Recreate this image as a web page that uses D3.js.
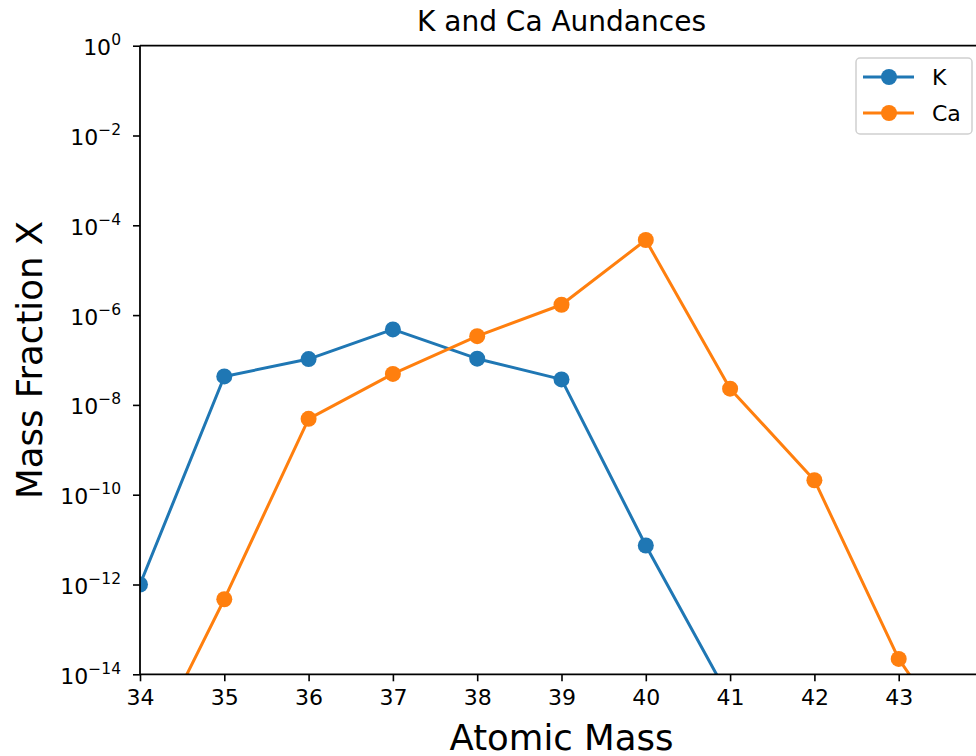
<!DOCTYPE html>
<html>
<head>
<meta charset="utf-8">
<script src="https://cdn.jsdelivr.net/npm/d3@7"></script>
<style>
  html, body { margin: 0; padding: 0; background: #fff; }
  svg { display: block; font-family: "DejaVu Sans", sans-serif; }
</style>
</head>
<body>
<svg id="chart" width="976" height="756"></svg>
<script>
// Data (mass fractions, log scale)
const kMass  = [34, 35, 36, 37, 38, 39, 40, 41];
const kX     = [1.0e-12, 4.3e-8, 1.05e-7, 4.8e-7, 1.07e-7, 3.7e-8, 7.4e-12, 2.8e-15];
const caMass = [34, 35, 36, 37, 38, 39, 40, 41, 42, 43, 44];
const caX    = [8e-17, 4.7e-13, 4.9e-9, 4.9e-8, 3.4e-7, 1.7e-6, 4.7e-5, 2.3e-8, 2.1e-10, 2.2e-14, 4e-17];

const xTicks = [34, 35, 36, 37, 38, 39, 40, 41, 42, 43];
const yTickExps = [0, -2, -4, -6, -8, -10, -12, -14];

const series = [
  { name: "K",  mass: kMass,  x: kX,  color: "#1f77b4" },
  { name: "Ca", mass: caMass, x: caX, color: "#ff7f0e" },
];

const L = 140, R = 983, T = 45.7, B = 674.3;

const svg = d3.select("#chart");

const x = d3.scaleLinear().domain([34, 44]).range([L, R]);
const y = d3.scaleLog().domain([1e-14, 1]).range([B, T]);

// clip for data
svg.append("defs").append("clipPath").attr("id", "plot-clip")
  .append("rect").attr("x", L).attr("y", T).attr("width", R - L).attr("height", B - T);

const dataG = svg.append("g").attr("clip-path", "url(#plot-clip)");

const line = d3.line()
  .x((d) => x(d[0]))
  .y((d) => y(d[1]));

for (const s of series) {
  const pts = s.mass.map((m, i) => [m, s.x[i]]);
  dataG.append("path")
    .datum(pts)
    .attr("d", line)
    .attr("fill", "none")
    .attr("stroke", s.color)
    .attr("stroke-width", 3)
    .attr("stroke-linejoin", "round");
  dataG.selectAll(null)
    .data(pts)
    .join("circle")
    .attr("cx", (d) => x(d[0]))
    .attr("cy", (d) => y(d[1]))
    .attr("r", 8)
    .attr("fill", s.color);
}

// ── Axes ──────────────────────────────────────────────
const xAxis = svg.append("g")
  .attr("transform", `translate(0,${B})`)
  .call(d3.axisBottom(x).tickValues(xTicks).tickSize(7).tickPadding(8).tickFormat(d3.format("d")));
xAxis.select(".domain").remove();
xAxis.selectAll(".tick line").attr("stroke", "#000").attr("stroke-width", 1.6);
xAxis.selectAll(".tick text").attr("font-size", 22).attr("fill", "#000")
  .attr("font-family", "DejaVu Sans");

const yAxis = svg.append("g")
  .attr("transform", `translate(${L},0)`)
  .call(d3.axisLeft(y).tickValues(yTickExps.map((e) => Math.pow(10, e))).tickSize(7).tickFormat(""));
yAxis.select(".domain").remove();
yAxis.selectAll(".tick line").attr("stroke", "#000").attr("stroke-width", 1.6);

yAxis.selectAll(".tick").each(function(d) {
  const e = Math.round(Math.log10(d));
  const t = d3.select(this).append("text")
    .attr("x", -19)
    .attr("y", 9)
    .attr("text-anchor", "end")
    .attr("fill", "#000")
    .attr("font-size", 22)
    .attr("font-family", "DejaVu Sans");
  t.append("tspan").text("10");
  t.append("tspan")
    .attr("dy", -10)
    .attr("font-size", 15.5)
    .text(e === 0 ? "0" : "\u2212" + Math.abs(e));
});

// spines (left, top, bottom; right falls outside the canvas)
const spines = svg.append("g").attr("stroke", "#000").attr("stroke-width", 1.8).attr("fill", "none");
spines.append("line").attr("x1", L).attr("x2", L).attr("y1", T).attr("y2", B);
spines.append("line").attr("x1", L).attr("x2", R).attr("y1", T).attr("y2", T);
spines.append("line").attr("x1", L).attr("x2", R).attr("y1", B).attr("y2", B);
spines.append("line").attr("x1", R).attr("x2", R).attr("y1", T).attr("y2", B);

// ── Labels ────────────────────────────────────────────
svg.append("text")
  .attr("x", (L + R) / 2).attr("y", 31)
  .attr("text-anchor", "middle")
  .attr("font-size", 28)
  .attr("fill", "#000")
  .text("K and Ca Aundances");

svg.append("text")
  .attr("x", (L + R) / 2).attr("y", 750)
  .attr("text-anchor", "middle")
  .attr("font-size", 35.5)
  .attr("fill", "#000")
  .text("Atomic Mass");

svg.append("text")
  .attr("transform", `translate(42,${(T + B) / 2}) rotate(-90)`)
  .attr("text-anchor", "middle")
  .attr("font-size", 35.5)
  .attr("fill", "#000")
  .text("Mass Fraction X");

// ── Legend ────────────────────────────────────────────
const lg = svg.append("g").attr("transform", "translate(856,58)");
lg.append("rect")
  .attr("width", 116).attr("height", 76)
  .attr("rx", 4)
  .attr("fill", "#fff").attr("fill-opacity", 0.8)
  .attr("stroke", "#d0d0d0").attr("stroke-width", 1.5);

series.forEach((s, i) => {
  const row = lg.append("g").attr("transform", `translate(0,${19 + i * 36})`);
  row.append("line").attr("x1", 7).attr("x2", 58).attr("y1", 0).attr("y2", 0)
    .attr("stroke", s.color).attr("stroke-width", 3);
  row.append("circle").attr("cx", 33).attr("cy", 0).attr("r", 8).attr("fill", s.color);
  row.append("text").attr("x", 76).attr("y", 8)
    .attr("font-size", 22).attr("fill", "#000").text(s.name);
});
</script>
</body>
</html>
